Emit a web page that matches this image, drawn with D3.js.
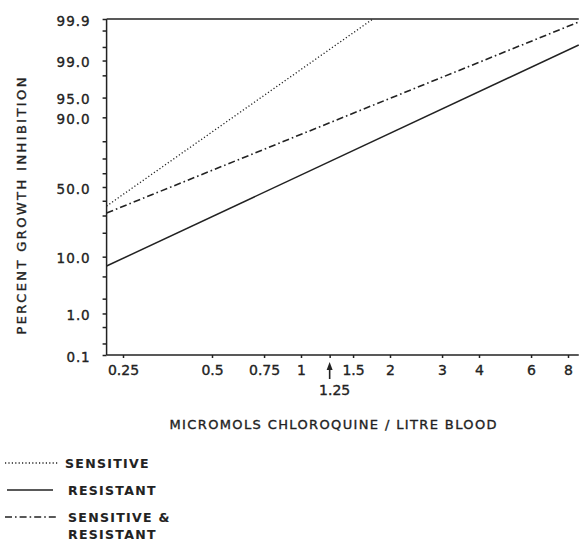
<!DOCTYPE html>
<html><head><meta charset="utf-8">
<script src="https://cdn.jsdelivr.net/npm/d3@7"></script>
<style>
html,body{margin:0;padding:0;background:#fff;}
svg{display:block;}
text{font-family:"DejaVu Sans",sans-serif;fill:#222;stroke:#222;stroke-width:0.35px;}
</style></head>
<body>
<script>
// ---- data ----
const xDomain = [0.22, 8.7];                 // concentration range of the plot frame
const xTickValues = [0.25, 0.5, 0.75, 1, 1.5, 2, 3, 4, 6, 8];
const xTickLabels = ["0.25", "0.5", "0.75", "1", "1.5", "2", "3", "4", "6", "8"];
const xMarked = 1.25;                         // arrowed value
const yDomain = [0.1, 99.9];
const yMajorTicks = [0.1, 1, 10, 50, 90, 95, 99, 99.9];
const yMajorLabels = ["0.1", "1.0", "10.0", "50.0", "90.0", "95.0", "99.0", "99.9"];
const yMinorTicks = [0.2, 0.5, 2, 5, 20, 30, 40, 60, 70, 80, 98, 99.5, 99.8];

const seriesNames = ["SENSITIVE", "RESISTANT", "SENSITIVE & RESISTANT"];
const sensitiveConc = [0.22, 1.75];
const sensitivePct = [36.3, 99.9];
const resistantConc = [0.22, 8.7];
const resistantPct = [7.3, 99.55];
const combinedConc = [0.22, 8.7];
const combinedPct = [31.6, 99.88];

// ---- probit ----
function probit(p){
  const a=[-3.969683028665376e+01,2.209460984245205e+02,-2.759285104469687e+02,1.383577518672690e+02,-3.066479806614716e+01,2.506628277459239e+00];
  const b=[-5.447609879822406e+01,1.615858368580409e+02,-1.556989798598866e+02,6.680131188771972e+01,-1.328068155288572e+01];
  const c=[-7.784894002430293e-03,-3.223964580411365e-01,-2.400758277161838e+00,-2.549732539343734e+00,4.374664141464968e+00,2.938163982698783e+00];
  const d=[7.784695709041462e-03,3.224671290700398e-01,2.445134137142996e+00,3.754408661907416e+00];
  const pl=0.02425, ph=1-pl; let q,r;
  if(p<pl){q=Math.sqrt(-2*Math.log(p));return (((((c[0]*q+c[1])*q+c[2])*q+c[3])*q+c[4])*q+c[5])/((((d[0]*q+d[1])*q+d[2])*q+d[3])*q+1);}
  if(p<=ph){q=p-0.5;r=q*q;return (((((a[0]*r+a[1])*r+a[2])*r+a[3])*r+a[4])*r+a[5])*q/(((((b[0]*r+b[1])*r+b[2])*r+b[3])*r+b[4])*r+1);}
  q=Math.sqrt(-2*Math.log(1-p));return -(((((c[0]*q+c[1])*q+c[2])*q+c[3])*q+c[4])*q+c[5])/((((d[0]*q+d[1])*q+d[2])*q+d[3])*q+1);
}

const W = 579, H = 543;
const svg = d3.select("body").append("svg").attr("width", W).attr("height", H);

const x = d3.scaleLog().domain([0.25, 8]).range([123, 568]);
const z = d3.scaleLinear().domain([probit(yDomain[0]/100), probit(yDomain[1]/100)]).range([355, 19]);
const y = p => z(probit(p/100));

const x0 = x(xDomain[0]), x1 = x(xDomain[1]);
const yTop = y(yDomain[1]), yBot = y(yDomain[0]);

const ink = "#222";

// frame top line
svg.append("line").attr("x1", x0).attr("x2", x1).attr("y1", yTop).attr("y2", yTop)
  .attr("stroke", ink).attr("stroke-width", 1.5);

// y axis minor
const yMinor = svg.append("g").attr("transform", `translate(${x0},0)`)
  .call(d3.axisLeft(z).tickValues(yMinorTicks.map(p=>probit(p/100))).tickSize(4).tickFormat(""));
yMinor.select(".domain").remove();
yMinor.selectAll(".tick line").attr("stroke", ink).attr("stroke-width", 1.5);

// y axis major
const yAx = svg.append("g").attr("transform", `translate(${x0},0)`)
  .call(d3.axisLeft(z).tickValues(yMajorTicks.map(p=>probit(p/100))).tickSize(4).tickPadding(13)
    .tickFormat((d,i)=>yMajorLabels[i]));
yAx.attr("font-size", null).attr("font-family", null);
yAx.select(".domain").attr("stroke", ink).attr("stroke-width", 1.5).attr("d", `M0,${yTop}V${yBot}`);
yAx.selectAll(".tick line").attr("stroke", ink).attr("stroke-width", 1.5);
yAx.selectAll(".tick text")
  .attr("font-size", 13.5).style("font-size", "13.5px")
  .attr("textLength", (d,i)=> yMajorLabels[i].length > 3 ? 33 : 23)
  .attr("lengthAdjust", "spacing")
  .attr("dy", "0.45em").attr("fill", ink);

// x axis
const xAx = svg.append("g").attr("transform", `translate(0,${yBot})`)
  .call(d3.axisBottom(x).tickValues(xTickValues.concat([xMarked])).tickSize(3).tickPadding(7)
    .tickFormat((d,i)=> i < xTickLabels.length ? xTickLabels[i] : ""));
xAx.attr("font-size", null).attr("font-family", null);
xAx.select(".domain").attr("stroke", ink).attr("stroke-width", 1.5).attr("d", `M${x0},0H${x1}`);
xAx.selectAll(".tick line").attr("stroke", ink).attr("stroke-width", 1.5);
xAx.selectAll(".tick text").attr("font-size", 14).style("font-size", "14px").attr("fill", ink);

// arrow at 1.25
const ax = x(xMarked);
svg.append("line").attr("x1", ax).attr("x2", ax).attr("y1", 366).attr("y2", 379)
  .attr("stroke", ink).attr("stroke-width", 1.6);
svg.append("path").attr("d", `M${ax-3},${370}L${ax},${362}L${ax+3},${370}Z`).attr("fill", ink);
svg.append("text").attr("x", ax+5).attr("y", 395).attr("text-anchor", "middle")
  .style("font-size", "14px").text("1.25");

// lines
const line = d3.line().x(d=>x(d[0])).y(d=>y(d[1]));
const series = [
  {conc: sensitiveConc, pct: sensitivePct, dash: "1.2,2.2", w: 1.3},
  {conc: resistantConc, pct: resistantPct, dash: null, w: 1.5},
  {conc: combinedConc, pct: combinedPct, dash: "7,3,1.6,3", w: 1.6}
];
series.forEach(s => {
  svg.append("path").datum(d3.zip(s.conc, s.pct)).attr("d", line)
    .attr("fill", "none").attr("stroke", ink).attr("stroke-width", s.w)
    .attr("stroke-dasharray", s.dash);
});

// axis titles
svg.append("text").attr("transform", "translate(26,206) rotate(-90)").attr("text-anchor", "middle")
  .attr("textLength", 257).attr("lengthAdjust", "spacing")
  .style("font-size", "13px").text("PERCENT  GROWTH  INHIBITION");
svg.append("text").attr("x", 333).attr("y", 429).attr("text-anchor", "middle")
  .attr("textLength", 327).attr("lengthAdjust", "spacing")
  .style("font-size", "13px").text("MICROMOLS  CHLOROQUINE / LITRE  BLOOD");

// legend
const legY = [463, 490, 517];
series.forEach((s, i) => {
  svg.append("line").attr("x1", i === 1 ? 7 : 5).attr("x2", i === 1 ? 53 : 58).attr("y1", legY[i]).attr("y2", legY[i])
    .attr("stroke", ink).attr("stroke-width", s.w).attr("stroke-dasharray", s.dash);
});
const legText = [["SENSITIVE"], ["RESISTANT"], ["SENSITIVE &", "RESISTANT"]];
legText.forEach((lines, i) => {
  lines.forEach((t, j) => {
    svg.append("text").attr("x", i === 0 ? 65 : 68).attr("y", legY[i] + 5 + j*17)
      .style("font-size", "12.5px").style("font-weight", "bold").style("letter-spacing", "1.3px")
      .style("stroke-width", "0.1px").text(t);
  });
});
</script>
</body></html>
